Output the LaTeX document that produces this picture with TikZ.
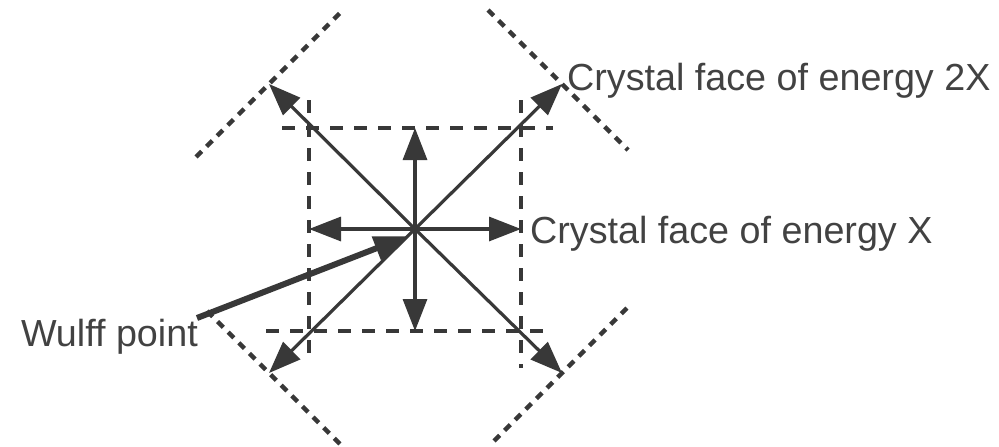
\documentclass[tikz,border=0pt]{standalone}
\usepackage{fontspec}
\setmainfont{Liberation Sans}
\usetikzlibrary{arrows.meta}
\definecolor{ink}{HTML}{383838}
\definecolor{txt}{HTML}{424242}
\tikzset{
  vec/.style={draw=ink, line width=3.2pt, -{Triangle[length=32pt,width=24pt]}},
  wulffvec/.style={draw=ink, line width=6pt, -{Triangle[length=34pt,width=24pt]}},
  facex/.style={draw=ink, line width=3.4pt, dash pattern=on 13pt off 11pt},
  face2x/.style={draw=ink, line width=4.4pt, dash pattern=on 8pt off 7pt},
  lab/.style={text=txt, inner sep=0pt, font=\fontsize{37.7}{44}\selectfont}
}
\begin{document}
\begin{tikzpicture}[x=1pt,y=-1pt]
\useasboundingbox[fill=white] (0,0) rectangle (999,447);
% centre and arrow tips
\coordinate (O) at (415,229);
\coordinate (U) at (415,128);
\coordinate (D) at (415,331);
\coordinate (L) at (309,229);
\coordinate (R) at (521,229);
\coordinate (UL) at (269,84);
\coordinate (UR) at (562,84);
\coordinate (DL) at (269,373);
\coordinate (DR) at (562,373);
% faces of energy X (dashed square)
\coordinate (t1) at (282,128); \coordinate (t2) at (553,128);
\coordinate (b1) at (266,331); \coordinate (b2) at (553,331);
\coordinate (l1) at (309,100); \coordinate (l2) at (309,363);
\coordinate (r1) at (521,100); \coordinate (r2) at (521,368);
\draw[facex] (t1) -- (t2);
\draw[facex] (b1) -- (b2);
\draw[facex] (l1) -- (l2);
\draw[facex] (r1) -- (r2);
% faces of energy 2X
\coordinate (a1) at (196,157); \coordinate (a2) at (341,12);
\coordinate (c1) at (488,10);  \coordinate (c2) at (628,150);
\coordinate (d1) at (207,311); \coordinate (d2) at (342,446);
\coordinate (e1) at (494,441); \coordinate (e2) at (631,304);
\draw[face2x] (a1) -- (a2);
\draw[face2x] (c1) -- (c2);
\draw[face2x] (d1) -- (d2);
\draw[face2x] (e1) -- (e2);
% vectors
\draw[vec] (O) -- (U);
\draw[vec] (O) -- (D);
\draw[vec] (O) -- (L);
\draw[vec] (O) -- (R);
\draw[vec] (O) -- (UL);
\draw[vec] (O) -- (UR);
\draw[vec] (O) -- (DL);
\draw[vec] (O) -- (DR);
% Wulff point
\coordinate (W) at (197,318);
\coordinate (Wt) at (408,236);
\draw[wulffvec] (W) -- (Wt);
% labels
\node[lab, anchor=base west] (lab2x) at (567,90) {Crystal face of energy 2X};
\node[lab, anchor=base west] (labx) at (530,243) {Crystal face of energy X};
\node[lab, anchor=base east] (labw) at (198,346) {Wulff point};
\end{tikzpicture}
\end{document}
